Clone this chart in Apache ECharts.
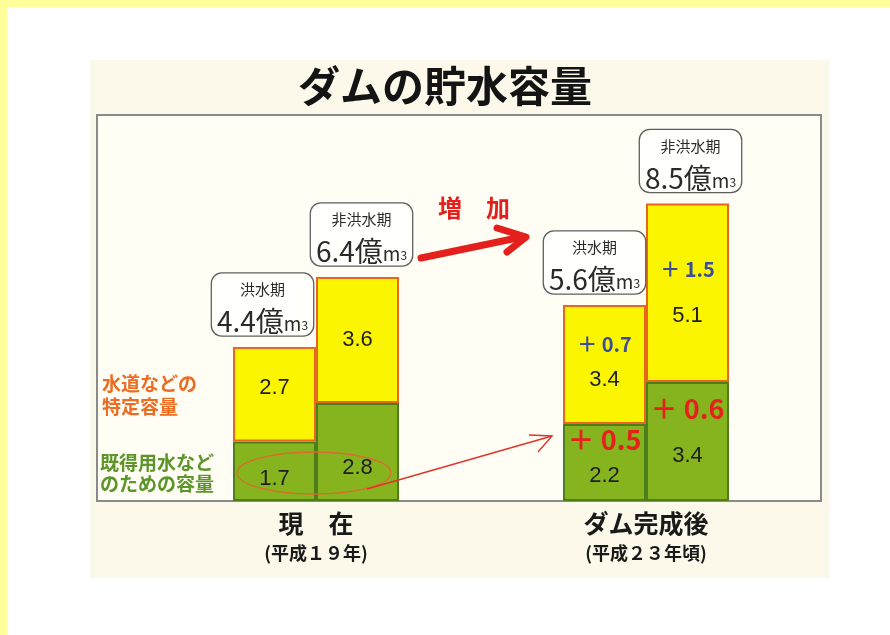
<!DOCTYPE html>
<html>
<head>
<meta charset="utf-8">
<script src="https://cdn.jsdelivr.net/npm/echarts@6/dist/echarts.min.js"></script>
<style>
  html, body { margin: 0; padding: 0; background: #fff; }
  #chart { width: 890px; height: 635px; }
</style>
</head>
<body>
<div id="chart"></div>
<script>
/* ダムの貯水容量 - stacked capacity bars, before / after the dam */
const categories = ['現　在', 'ダム完成後'];
const periods = ['(平成１９年)', '(平成２３年頃)'];
const seasons = ['洪水期', '非洪水期'];
// 億m3, [現在, ダム完成後]
const floodExisting = [1.7, 2.2];      // 洪水期 既得用水などのための容量
const floodSpecific = [2.7, 3.4];      // 洪水期 水道などの特定容量
const nonFloodExisting = [2.8, 3.4];   // 非洪水期 既得用水などのための容量
const nonFloodSpecific = [3.6, 5.1];   // 非洪水期 水道などの特定容量
const layerSpecific = ['水道などの', '特定容量'];
const layerExisting = ['既得用水など', 'のための容量'];
const titleText = 'ダムの貯水容量';
const increaseText = '増　加';

const chart = echarts.init(document.getElementById('chart'));
const JP = '"Noto Sans CJK JP", "Noto Sans", sans-serif';
const NUM = '"Liberation Sans Narrow", "Liberation Sans", Arial, sans-serif';

const YELLOW = '#fbf500', ORANGE = '#e8661e';
const GREEN = '#86b41f', DKGREEN = '#4e7e1c';

const totals = (a, b) => a.map((v, i) => +(v + b[i]).toFixed(1));
const delta = (arr) => '＋ ' + (arr[1] - arr[0]).toFixed(1);

// label for stacked segment: plain value for 現在, increase + value for ダム完成後
function segLabel(arr, incKey, numKey) {
  return (p) => p.dataIndex === 0
    ? '{' + numKey + '|' + arr[0].toFixed(1) + '}'
    : '{' + incKey + '|' + delta(arr) + '}\n{' + numKey + '|' + arr[1].toFixed(1) + '}';
}

const segRich = {
  num: { fontFamily: NUM, fontSize: 22, color: '#1e1e1e', lineHeight: 36 },
  numT: { fontFamily: NUM, fontSize: 22, color: '#1e1e1e', lineHeight: 46 },
  incB: { fontFamily: JP, fontWeight: 'bold', fontSize: 20, color: '#3a4d9c', lineHeight: 34 },
  incBT: { fontFamily: JP, fontWeight: 'bold', fontSize: 20, color: '#3a4d9c', lineHeight: 46 },
  incR: { fontFamily: JP, fontWeight: 'bold', fontSize: 27, color: '#e4211b', lineHeight: 36 },
  incRT: { fontFamily: JP, fontWeight: 'bold', fontSize: 27, color: '#e4211b', lineHeight: 48 },
};

const boxRich = {
  s: { fontFamily: JP, fontSize: 15, color: '#2a2a2a', lineHeight: 28, align: 'center' },
  v: { fontFamily: JP, fontSize: 28, color: '#2a2a2a', lineHeight: 32, verticalAlign: 'bottom' },
  m: { fontFamily: JP, fontSize: 19, color: '#2a2a2a', lineHeight: 22, verticalAlign: 'bottom', padding: [0, 0, 2, 0] },
  p: { fontFamily: JP, fontSize: 12, color: '#2a2a2a', lineHeight: 14, verticalAlign: 'bottom', padding: [0, 0, 4, 0] },
};

function boxMark(season, tot, offsets) {
  return {
    symbol: 'circle', symbolSize: 1, itemStyle: { color: 'rgba(0,0,0,0)' },
    silent: true,
    label: {
      show: true, position: 'top', distance: 11,
      backgroundColor: '#fffffb', borderColor: '#5e5e5e', borderWidth: 1.3, borderRadius: 10,
      padding: [2, 5, 0, 5],
      formatter: (p) => '{s|' + season + '}\n{v|' + p.value.toFixed(1) + '億}{m|m}{p|3}',
      rich: boxRich,
    },
    data: tot.map((t, i) => ({ coord: [i, t], value: t, label: { offset: [offsets[i], 0] } })),
  };
}

// per-bar fine placement of the inner labels (px)
const greenOffsets = { flood: [8, -5], nonFlood: [16, -10] };
const yellowOffsets = { flood: [-6, -2], nonFlood: [0, 0] };

function seg(name, stack, values, color, border, fmt, offs, mark) {
  return {
    name, type: 'bar', stack, barWidth: 83, barGap: '0%',
    itemStyle: { color, borderColor: border, borderWidth: 2 },
    label: { show: true, position: 'inside', formatter: fmt, rich: segRich },
    data: values.map((v, i) => ({ value: v, label: { offset: [0, offs[i]] } })),
    markPoint: mark,
  };
}

const series = [
  seg('洪水期 既得', 'flood', floodExisting, GREEN, DKGREEN,
    segLabel(floodExisting, 'incR', 'num'), greenOffsets.flood),
  seg('洪水期 特定', 'flood', floodSpecific, YELLOW, ORANGE,
    segLabel(floodSpecific, 'incB', 'num'), yellowOffsets.flood,
    boxMark(seasons[0], totals(floodExisting, floodSpecific), [-12, -10])),
  seg('非洪水期 既得', 'nonFlood', nonFloodExisting, GREEN, DKGREEN,
    segLabel(nonFloodExisting, 'incRT', 'numT'), greenOffsets.nonFlood),
  seg('非洪水期 特定', 'nonFlood', nonFloodSpecific, YELLOW, ORANGE,
    segLabel(nonFloodSpecific, 'incBT', 'numT'), yellowOffsets.nonFlood,
    boxMark(seasons[1], totals(nonFloodExisting, nonFloodSpecific), [4, 3])),
];

const txt = (x, y, text, font, fill, extra) => ({
  type: 'text', z: 5, x, y,
  style: Object.assign({ text, font, fill, textAlign: 'left', textVerticalAlign: 'middle' }, extra || {}),
});

chart.setOption({
  backgroundColor: '#ffffff',
  animation: false,
  grid: { left: 151, right: 79, top: 116, bottom: 134 },
  xAxis: {
    type: 'category', data: categories,
    axisLine: { show: false }, axisTick: { show: false },
    axisLabel: {
      margin: 7,
      formatter: (v, i) => '{a|' + v + '}\n{b|' + periods[i] + '}',
      rich: {
        a: { fontFamily: JP, fontWeight: 'bold', fontSize: 25, color: '#1a1a1a', lineHeight: 30 },
        b: { fontFamily: JP, fontWeight: 'bold', fontSize: 18, color: '#1a1a1a', lineHeight: 30 },
      },
    },
  },
  yAxis: { type: 'value', min: 0, max: 11, show: false, splitLine: { show: false } },
  graphic: [
    { type: 'rect', z: -10, shape: { x: 0, y: 0, width: 890, height: 7 }, style: { fill: '#ffff99' } },
    { type: 'rect', z: -10, shape: { x: 0, y: 0, width: 7, height: 635 }, style: { fill: '#ffff99' } },
    { type: 'rect', z: -9, shape: { x: 90, y: 60, width: 740, height: 518 }, style: { fill: '#fcf9eb' } },
    { type: 'rect', z: -8, shape: { x: 97, y: 115, width: 724, height: 386 },
      style: { fill: '#fffdf4', stroke: '#8a8a8a', lineWidth: 2 } },
    { type: 'text', z: 5, x: 445, y: 86,
      style: { text: titleText, font: 'bold 42px ' + JP, fill: '#141414', textAlign: 'center',
        textVerticalAlign: 'middle' } },
    // layer captions
    txt(102, 384, layerSpecific[0], 'bold 19px ' + JP, '#eb6c22'),
    txt(102, 407, layerSpecific[1], 'bold 19px ' + JP, '#eb6c22'),
    txt(100, 463, layerExisting[0], 'bold 19px ' + JP, '#5c962a'),
    txt(100, 484, layerExisting[1], 'bold 19px ' + JP, '#5c962a'),
    // 増加 arrow
    txt(474, 208, increaseText, 'bold 24px ' + JP, '#e3201c', { textAlign: 'center' }),
    { type: 'line', z: 10, shape: { x1: 421, y1: 258, x2: 522, y2: 237 },
      style: { stroke: '#e3201c', lineWidth: 7, lineCap: 'round' } },
    { type: 'polyline', z: 10, shape: { points: [[497, 228], [526, 237], [507, 252]] },
      style: { stroke: '#e3201c', lineWidth: 7, fill: null, lineJoin: 'round', lineCap: 'round' } },
    // ellipse + thin arrow
    { type: 'ellipse', z: 10, shape: { cx: 314, cy: 473, rx: 77, ry: 21 },
      style: { stroke: '#dd6a2a', lineWidth: 1.3, fill: null } },
    { type: 'line', z: 10, shape: { x1: 367, y1: 489, x2: 552, y2: 436 },
      style: { stroke: '#e0342c', lineWidth: 1.4 } },
    { type: 'polyline', z: 10, shape: { points: [[529, 435], [552, 436], [538, 452]] },
      style: { stroke: '#e0342c', lineWidth: 1.4, fill: null } },
  ],
  series,
});
window.addEventListener('resize', () => chart.resize());
</script>
</body>
</html>
